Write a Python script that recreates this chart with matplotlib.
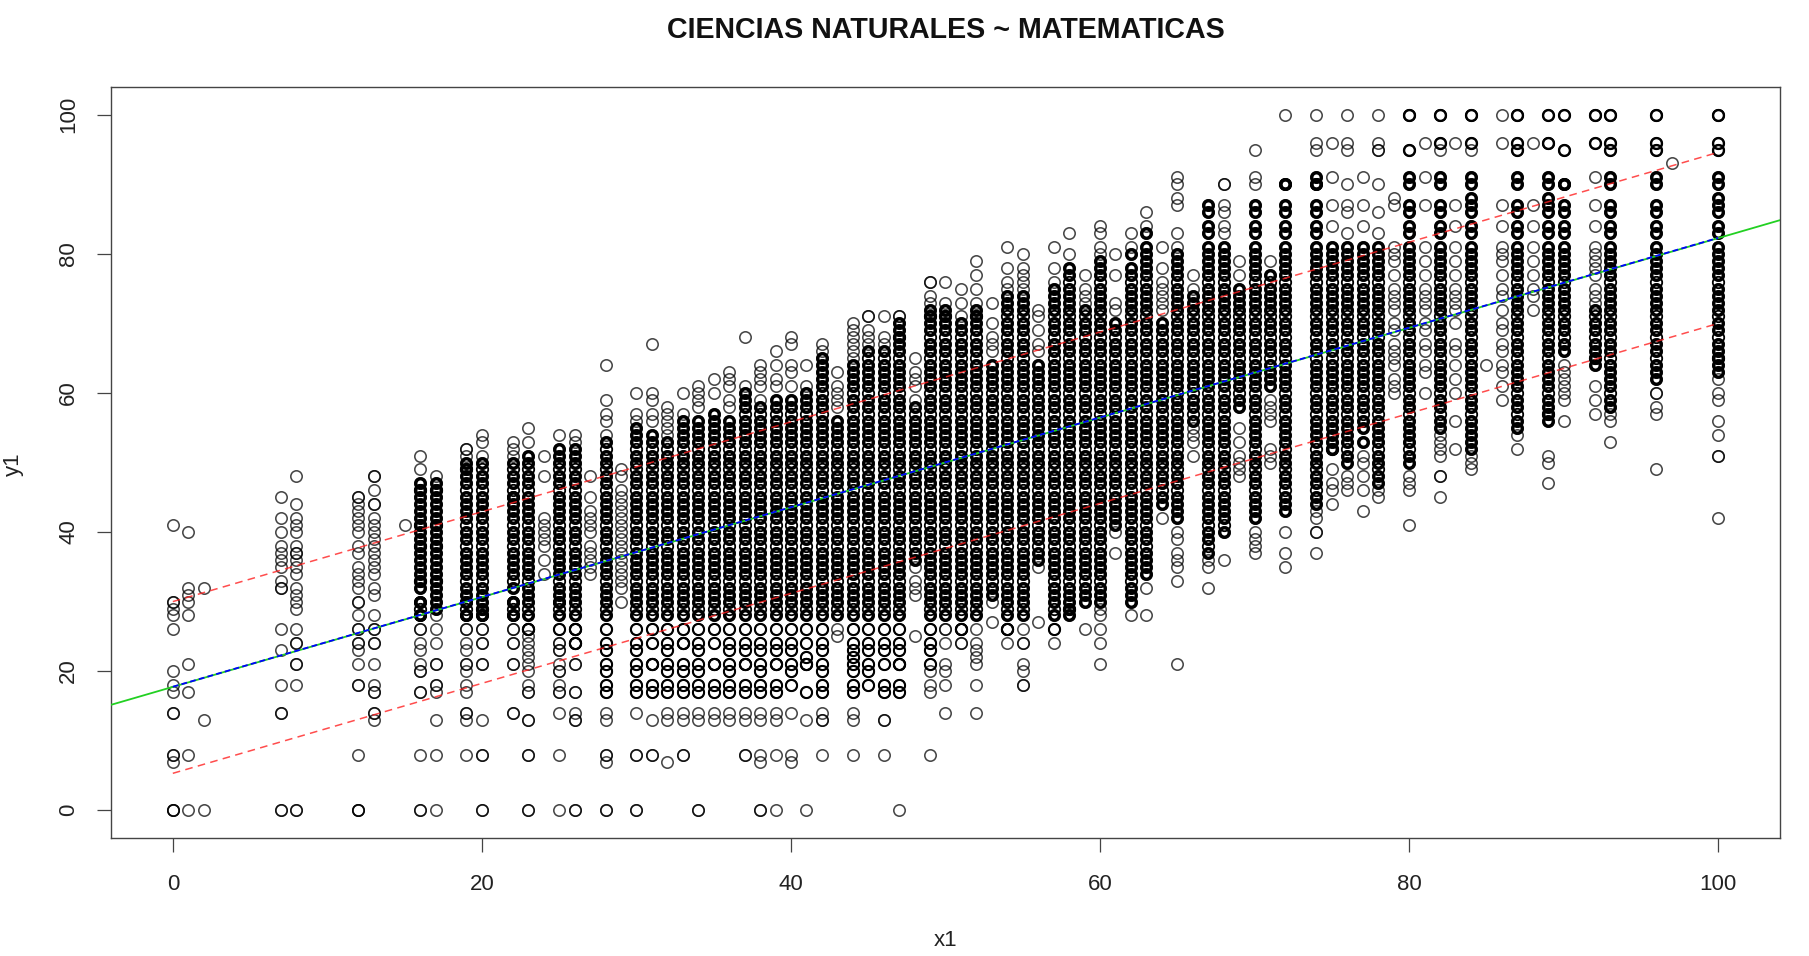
import matplotlib
matplotlib.use('Agg')
import matplotlib.pyplot as plt

# score columns, one list per x1 value
y_00 = [41,30,30,29,28,26,20,18,17,14,14,8,8,7,0,0,0]
y_01 = [40,32,31,30,28,21,17,8,0]
y_02 = [32,13,0]
y_07 = [45,42,40,38,37,36,35,33,32,32,26,23,18,14,14,0,0]
y_08 = [48,44,42,41,40,38,37,37,36,35,34,32,31,30,29,26,24,24,21,21,18,0,0]
y_12 = [45,45,44,43,42,41,40,38,37,35,34,33,32,30,30,28,26,26,24,24,23,21,18,18,8,0,0,0]
y_13 = [48,48,46,44,44,42,41,40,39,38,37,36,35,34,32,31,28,26,26,24,24,21,18,17,17,14,14,13]
y_15 = [41]
y_16 = [51,49,47,46,45,44,43,42,41,40,39,38,37,36,35,34,33,32,30,30,28,28,26,26,24,23,21,20,20,17,17,8,0,0]
y_17 = [48,47,46,45,44,43,42,41,40,39,38,37,36,35,34,33,32,31,30,29,28,26,24,21,21,18,18,17,13,8,0]
y_19 = [52,52,51,50,49,48,47,45,44,43,42,40,39,37,36,35,34,32,31,30,30,28,28,26,26,24,23,21,21,20,18,17,14,14,13,8]
y_20 = [54,53,51,50,48,47,45,44,43,42,40,39,37,36,35,34,32,31,30,29,28,28,26,26,24,24,21,21,13,8,8,0,0]
y_22 = [53,52,51,50,48,47,45,45,44,43,42,40,39,37,36,35,34,32,30,30,28,28,26,26,24,24,21,21,14,14]
y_23 = [55,53,51,50,48,47,45,44,43,42,40,39,37,36,35,34,32,31,30,28,26,26,25,24,23,22,21,20,18,17,17,13,13,8,8,0,0]
y_24 = [51,48,42,41,40,39,38,36,34]
y_25 = [54,52,51,50,48,47,45,44,43,42,40,39,37,36,35,34,32,31,30,30,28,26,24,24,23,23,21,20,20,18,17,17,14,8,0]
y_26 = [54,53,52,51,50,48,47,45,44,43,42,40,39,37,36,35,34,32,31,30,28,26,26,24,24,21,21,17,17,14,13,13,0,0]
y_27 = [48,45,43,42,41,40,38,37,36,35,34]
y_28 = [64,59,57,56,54,53,51,50,48,47,45,44,43,42,40,39,37,36,35,34,32,31,30,28,26,24,23,21,20,18,17,14,13,8,8,7,0,0]
y_29 = [49,48,46,45,44,43,42,41,40,39,38,37,36,35,34,33,32,30]
y_30 = [60,57,56,55,54,53,51,50,48,47,45,44,43,42,40,39,37,36,35,34,32,31,30,28,26,24,23,21,20,18,17,14,8,8,0,0]
y_31 = [67,60,59,57,56,54,53,51,50,48,47,45,44,43,42,40,39,37,36,35,34,32,31,30,28,26,24,21,21,18,17,13,8,8]
y_32 = [58,57,56,55,54,53,51,50,48,47,45,44,43,42,40,39,37,36,35,34,32,31,30,28,26,24,23,21,20,18,17,14,13,7]
y_33 = [60,57,56,55,54,53,51,50,48,47,45,44,43,42,40,39,37,36,35,34,32,31,30,28,26,24,24,21,20,18,17,14,13,8,8]
y_34 = [61,60,59,58,56,55,54,53,51,50,48,47,45,44,43,42,40,39,37,36,35,34,32,31,30,28,26,24,23,21,20,18,17,14,13,0,0]
y_35 = [62,60,57,56,55,54,53,51,50,48,47,45,44,43,42,40,39,37,36,35,34,32,31,30,28,26,24,21,21,18,17,14,13]
y_36 = [63,62,61,59,58,56,55,54,53,51,50,48,47,45,44,43,42,40,39,37,36,35,34,32,31,30,28,26,24,23,21,20,18,17,14,13]
y_37 = [68,61,60,59,58,56,55,54,53,51,50,48,47,45,44,43,42,40,39,37,36,35,34,32,31,30,28,26,24,23,21,21,18,17,14,13,8,8]
y_38 = [64,63,62,61,59,58,56,55,54,53,51,50,48,47,45,44,43,42,40,39,37,36,35,34,32,31,30,28,26,24,23,21,20,18,17,14,13,8,7,0,0]
y_39 = [66,64,62,61,59,58,56,55,54,53,51,50,48,47,45,44,43,42,40,39,37,36,35,34,32,31,30,28,26,24,23,21,21,18,17,14,13,8,0]
y_40 = [68,67,64,63,61,59,58,56,55,54,53,51,50,48,47,45,44,43,42,40,39,37,36,35,34,32,31,30,28,26,24,23,21,20,18,14,8,7]
y_41 = [64,61,60,59,58,56,55,54,53,51,50,48,47,45,44,43,42,40,39,37,36,35,34,32,31,30,28,26,24,21,21,22,17,13,0]
y_42 = [67,66,65,64,63,62,61,59,58,56,55,54,53,51,50,48,47,45,44,43,42,40,39,37,36,35,34,32,31,30,28,26,24,23,21,20,18,17,14,13,13,8]
y_43 = [63,61,60,59,58,56,55,54,53,51,50,48,47,45,44,43,42,40,39,37,36,35,34,32,31,30,28,26,25]
y_44 = [70,69,68,67,66,65,64,63,62,61,59,58,56,55,54,53,51,50,48,47,45,44,43,42,40,39,37,36,35,34,32,31,30,28,26,24,23,22,21,20,18,17,14,13,8]
y_45 = [71,71,69,68,67,66,64,63,62,61,59,58,56,55,54,53,51,50,48,47,45,44,43,42,40,39,37,36,35,34,32,31,30,28,26,24,23,21,20,18]
y_46 = [71,68,67,66,64,63,62,61,59,58,56,55,54,53,51,50,48,47,45,44,43,42,40,39,37,36,35,34,32,31,30,28,26,24,23,21,18,17,13,13,8]
y_47 = [71,71,70,69,68,67,66,64,63,62,61,59,58,56,55,54,53,51,50,48,47,45,44,43,42,40,39,37,36,35,34,32,31,30,28,26,24,23,21,21,18,17,0]
y_48 = [65,63,62,61,59,58,56,55,54,53,51,50,48,47,45,44,43,42,40,39,37,36,35,33,32,31,25]
y_49 = [76,76,74,73,72,71,70,69,67,66,64,63,62,61,59,58,56,55,54,53,51,50,48,47,45,44,43,42,40,39,37,36,35,34,32,31,30,28,26,24,23,21,20,18,17,8]
y_50 = [76,73,72,71,70,69,67,66,64,63,62,61,59,58,56,55,54,53,51,50,48,47,45,44,43,42,40,39,37,36,35,34,32,31,30,28,26,26,24,21,20,18,14]
y_51 = [75,73,71,70,69,67,66,64,63,62,61,59,58,56,55,54,53,51,50,48,47,45,44,43,42,40,39,37,36,35,34,32,31,30,28,26,26,24,24]
y_52 = [79,77,75,73,72,71,70,69,67,66,64,63,62,61,59,58,56,55,54,53,51,50,48,47,45,44,43,42,40,39,37,36,35,34,32,31,30,28,26,24,23,22,21,18,14]
y_53 = [73,70,68,67,66,64,63,62,61,59,58,56,55,54,53,51,50,48,47,45,44,43,42,40,39,37,36,35,34,32,31,30,27]
y_54 = [81,78,76,75,74,73,72,70,69,67,66,64,63,62,61,59,58,56,55,54,53,51,50,48,47,45,44,43,42,40,39,37,36,35,34,32,31,30,28,26,26,24]
y_55 = [80,78,77,76,75,74,73,72,70,69,67,66,64,63,62,61,59,58,56,55,54,53,51,50,48,47,45,44,43,42,40,39,37,36,35,34,32,31,30,28,26,24,24,21,20,18,18]
y_56 = [72,71,69,67,66,64,63,62,61,59,58,56,55,54,53,51,50,48,47,45,44,43,42,40,39,37,36,35,27]
y_57 = [81,78,76,75,74,73,72,70,69,67,66,64,63,62,61,59,58,56,55,54,53,51,50,48,47,45,44,43,42,40,39,37,36,35,34,32,31,30,28,26,24]
y_58 = [83,80,78,77,75,74,73,72,70,69,67,66,64,63,62,61,59,58,56,55,54,53,51,50,48,47,45,44,43,42,40,39,37,36,35,34,32,31,30,29,28]
y_59 = [77,75,74,73,72,70,69,67,66,64,63,62,61,59,58,56,55,54,53,51,50,48,47,45,44,43,42,40,39,37,36,35,34,32,31,30,26]
y_60 = [84,83,81,80,79,78,77,75,74,73,72,70,69,67,66,64,63,62,61,59,58,56,55,54,53,51,50,48,47,45,44,43,42,40,39,37,36,35,34,32,31,30,29,28,26,24,21]
y_61 = [80,77,73,72,70,69,67,66,64,63,62,61,59,58,56,55,54,53,51,50,48,47,45,44,43,42,41,40,37]
y_62 = [83,81,80,78,77,75,74,73,72,70,69,67,66,64,63,62,61,59,58,56,55,54,53,51,50,48,47,45,44,43,42,40,39,37,36,35,34,32,31,30,28]
y_63 = [86,84,83,81,80,79,78,77,75,74,73,72,70,69,67,66,64,63,62,61,59,58,56,55,54,53,51,50,48,47,45,44,43,42,40,39,37,36,35,34,32,28]
y_64 = [81,78,76,75,74,73,72,70,69,67,66,64,63,62,61,59,58,56,55,54,53,51,50,48,47,45,44,42]
y_65 = [91,90,88,87,83,81,80,79,78,77,75,74,73,72,70,69,67,66,64,63,62,61,59,58,56,55,54,53,51,50,48,47,45,44,43,42,40,39,37,36,35,33,21]
y_66 = [77,75,74,73,72,70,69,67,66,64,63,62,61,59,58,56,55,54,53,51]
y_67 = [87,86,84,83,81,80,79,78,77,75,74,73,72,70,69,67,66,64,63,62,61,59,58,56,55,54,53,51,50,48,47,45,44,43,42,40,39,37,36,35,32]
y_68 = [90,90,87,86,84,83,81,80,79,78,77,75,74,73,72,70,69,67,66,64,63,62,61,59,58,56,55,54,53,51,50,48,47,45,44,43,42,40,36]
y_69 = [79,77,75,74,73,72,70,69,67,66,64,63,62,61,59,58,55,53,51,50,49,48]
y_70 = [95,91,90,87,86,84,83,81,80,79,78,77,75,74,73,72,70,69,67,66,64,63,62,61,59,58,56,55,54,53,51,50,48,47,45,44,43,42,40,39,38,37]
y_71 = [79,77,75,74,73,72,70,69,67,66,64,63,62,61,59,58,57,56,52,51,50]
y_72 = [100,90,90,87,86,84,83,81,80,79,78,77,75,74,73,72,70,69,67,66,64,63,62,61,59,58,56,55,54,53,51,50,48,47,45,44,43,40,37,35]
y_74 = [100,96,95,91,90,90,87,86,84,83,81,80,79,78,77,75,74,73,72,70,69,67,66,64,63,62,61,59,58,56,55,54,53,51,50,48,47,45,44,43,42,40,40,37]
y_75 = [96,91,87,84,81,80,79,78,77,75,74,73,72,70,69,67,66,64,63,62,61,59,58,56,55,54,53,52,49,47,46,44]
y_76 = [100,96,95,90,87,86,83,81,80,79,78,77,75,74,73,72,70,69,67,66,64,63,62,61,59,58,56,55,54,53,51,50,48,47,46]
y_77 = [91,87,84,81,80,79,78,77,75,74,73,72,70,69,67,66,64,63,62,61,59,58,56,55,53,51,50,48,46,43]
y_78 = [100,96,95,95,90,86,83,81,80,79,78,77,75,74,73,72,70,69,67,66,64,63,62,61,59,58,56,55,54,53,51,50,48,47,46,45]
y_79 = [88,87,81,80,79,77,75,74,73,72,70,69,67,66,65,64,62,61,60]
y_80 = [100,100,95,91,90,87,86,84,83,81,80,79,78,77,75,74,73,72,70,69,67,66,64,63,62,61,59,58,56,55,54,53,51,50,48,47,46,41]
y_81 = [96,91,87,81,79,77,75,74,73,72,70,69,67,66,64,63,60]
y_82 = [100,100,96,95,91,90,87,86,84,83,81,80,79,78,77,75,74,73,72,70,69,67,66,64,63,62,61,59,58,56,55,54,53,52,51,48,48,45]
y_83 = [96,87,84,81,79,77,75,74,73,72,70,67,66,64,62,60,56,52]
y_84 = [100,100,96,95,91,90,88,87,86,84,83,81,80,79,78,77,75,74,73,72,70,69,67,66,64,63,62,61,59,58,56,55,54,53,52,51,50,49]
y_85 = [64]
y_86 = [100,96,87,84,81,80,79,77,75,74,72,70,69,67,66,64,63,61,59]
y_87 = [100,100,96,95,91,90,87,86,84,83,81,80,79,78,77,75,74,73,72,70,69,67,66,64,63,62,61,59,58,56,55,54,52]
y_88 = [96,87,84,81,79,77,75,74,72]
y_89 = [100,96,96,91,90,88,87,86,84,83,81,80,79,78,77,75,74,73,72,70,69,67,66,64,63,62,61,59,58,57,56,51,50,47]
y_90 = [100,95,90,90,87,86,84,83,81,80,79,78,77,75,74,73,72,70,69,67,66,64,63,62,61,60,59,56]
y_92 = [100,100,96,91,87,84,81,80,79,78,77,75,74,73,72,70,69,67,66,65,64,61,59,57]
y_93 = [100,100,96,95,91,90,87,86,84,83,81,80,79,78,77,75,74,73,72,70,69,67,66,64,63,62,61,59,58,57,56,53]
y_96 = [100,100,96,95,91,90,87,86,84,83,81,80,79,78,77,75,74,73,72,70,69,67,66,64,63,62,60,60,58,57,49]
y_97 = [93]
y_100 = [100,100,96,95,91,90,88,87,86,84,83,81,80,79,78,77,75,74,73,72,70,69,67,66,65,64,63,62,60,59,56,54,51,51,42]

x_values = [0,1,2,7,8,12,13,15,16,17,19,20,22,23,24,25,26,27,28,29,30,31,32,33,34,35,36,37,38,39,40,41,42,43,44,
            45,46,47,48,49,50,51,52,53,54,55,56,57,58,59,60,61,62,63,64,65,66,67,68,69,70,71,72,74,75,76,77,78,
            79,80,81,82,83,84,85,86,87,88,89,90,92,93,96,97,100]
y_columns = [y_00,y_01,y_02,y_07,y_08,y_12,y_13,y_15,y_16,y_17,y_19,y_20,y_22,y_23,y_24,y_25,y_26,y_27,y_28,y_29,
             y_30,y_31,y_32,y_33,y_34,y_35,y_36,y_37,y_38,y_39,y_40,y_41,y_42,y_43,y_44,y_45,y_46,y_47,y_48,y_49,
             y_50,y_51,y_52,y_53,y_54,y_55,y_56,y_57,y_58,y_59,y_60,y_61,y_62,y_63,y_64,y_65,y_66,y_67,y_68,y_69,
             y_70,y_71,y_72,y_74,y_75,y_76,y_77,y_78,y_79,y_80,y_81,y_82,y_83,y_84,y_85,y_86,y_87,y_88,y_89,y_90,
             y_92,y_93,y_96,y_97,y_100]

# span of each column where points pile up and the circles read as solid black
heavy_x = [16,17,19,20,22,23,25,26,28,30,31,32,33,34,35,36,37,38,39,40,41,42,43,44,45,46,47,48,49,50,51,52,53,54,
           55,56,57,58,59,60,61,62,63,64,65,66,67,68,69,70,71,72,74,75,76,77,78,80,82,84,87,89,90,92,93,96,100]
heavy_low = [28,29,28,28,28,26,26,24,17,17,17,17,17,17,17,17,17,17,17,17,17,17,28,17,18,17,17,36,21,28,26,28,31,26,
             28,36,26,28,30,30,41,30,34,44,42,56,37,40,58,42,60,43,44,50,50,52,47,50,55,52,55,55,66,62,58,62,63]
heavy_high = [47,47,50,50,50,52,52,52,53,55,55,53,56,57,57,57,60,58,60,60,60,65,56,64,66,66,70,58,72,72,70,72,64,74,
              74,64,75,78,72,79,70,80,83,70,80,74,87,81,75,87,77,90,91,81,81,81,81,91,91,91,91,91,91,72,91,91,91]
# scores that only show as thin white slits inside the solid parts
slit_rows = [29,33,38,41,46,49,52,57,60,65,68,71,76,82,85]

# top scores that are overplotted and print bold
bold_x = [80,82,84,87,89,90,92,93,96,100,82,84,87,87,89,90,92,93,93,96,96,100,100,80]
bold_y = [100,100,100,100,100,100,100,100,100,100,96,96,96,95,96,95,96,96,95,96,95,96,95,95]

# regression line and prediction band
x_full = [-4, 104]
y_full = [15.15, 84.85]
x_fit = [0, 100]
y_fit = [17.75, 82.3]
y_upper = [30.0, 94.6]
y_lower = [5.3, 70.0]

plt.rcParams['font.family'] = ['Liberation Sans', 'DejaVu Sans']

W, H = 1809, 956
fig = plt.figure(figsize=(W / 100, H / 100), dpi=100)
ax = fig.add_axes([111 / W, 1 - 838 / H, 1669 / W, 751 / H])

xs = []
ys = []
for x, col in zip(x_values, y_columns):
    xs += [x] * len(col)
    ys += col

# repeated scores inside the heavy spans; rows under 28 stay open rings
core_x = []
core_y = []
low_x = []
low_y = []
slit_x = []
slit_y = []
for x, lo, hi in zip(heavy_x, heavy_low, heavy_high):
    for y in y_columns[x_values.index(x)]:
        if lo <= y <= hi:
            if y >= 28:
                core_x.append(x)
                core_y.append(y)
            else:
                low_x.append(x)
                low_y.append(y)
    for y in slit_rows:
        if max(lo, 28) < y < min(hi, 81):
            slit_x.append(x)
            slit_y.append(y)

ax.plot(xs, ys, 'o', mfc='none', mec='black', ms=8.2, mew=1.15, alpha=0.72, zorder=2)
ax.plot(low_x, low_y, 'o', mfc='none', mec='black', ms=8.0, mew=1.5, zorder=2)
ax.plot(bold_x, bold_y, 'o', mfc='none', mec='black', ms=7.8, mew=1.7, zorder=2)
ax.plot(slit_x, slit_y, 'o', mfc='none', mec='black', ms=8.2, mew=1.3, zorder=2)
ax.plot(core_x, core_y, 'o', mfc='none', mec='black', ms=6.8, mew=2.4, zorder=2)
ax.plot(x_full, y_full, color='#22d022', lw=1.3, zorder=3)
ax.plot(x_fit, y_fit, color='#0000ff', lw=1.3, ls=(0, (3.2, 1.8)), zorder=4)
ax.plot(x_fit, y_upper, color='#ff2020', lw=1.1, ls=(0, (5, 3.5)), alpha=0.8, zorder=4)
ax.plot(x_fit, y_lower, color='#ff2020', lw=1.1, ls=(0, (5, 3.5)), alpha=0.8, zorder=4)

ax.set_xlim(-4, 104)
ax.set_ylim(-4, 104)
ticks = [0, 20, 40, 60, 80, 100]
ax.set_xticks(ticks)
ax.set_yticks(ticks)
ax.tick_params(length=10, width=0.9, color='#444444', labelsize=16, labelcolor='#222222')
ax.tick_params(axis='x', pad=16)
ax.tick_params(axis='y', pad=13)
for t in ax.get_yticklabels():
    t.set_rotation(90)
    t.set_va('center')
for s in ax.spines.values():
    s.set_color('#444444')
    s.set_linewidth(1.0)

fig.text(946 / W, 1 - 30 / H, 'CIENCIAS NATURALES ~ MATEMATICAS', ha='center', va='center',
         fontsize=20.6, fontweight='bold', color='#111111')
fig.text(946 / W, 1 - 940 / H, 'x1', ha='center', va='center', fontsize=16, color='#222222')
fig.text(13 / W, 1 - 464 / H, 'y1', ha='center', va='center', rotation=90, fontsize=16, color='#222222')

fig.savefig('out.png', dpi=100)
